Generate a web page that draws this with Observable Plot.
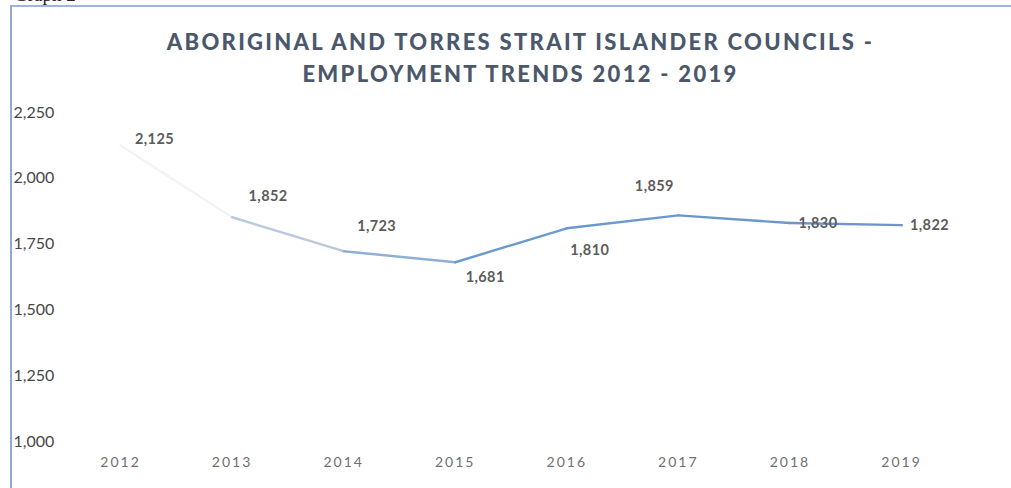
<!DOCTYPE html>
<html>
<head>
<meta charset="utf-8">
<script src="https://cdn.jsdelivr.net/npm/d3@7"></script>
<script src="https://cdn.jsdelivr.net/npm/@observablehq/plot@0.6"></script>
<style>
  html, body { margin: 0; padding: 0; background: #ffffff; }
  body { width: 1011px; height: 488px; position: relative; overflow: hidden; font-family: Lato, "Open Sans", sans-serif; }
  #graphno { position: absolute; left: 14px; top: -16px; font-family: "Liberation Serif", serif; font-size: 19px; color: #222; }
  #frame { position: absolute; left: 10px; top: 5px; width: 1001px; height: 483px;
           border-left: 2px solid #8fa9d6; border-top: 2px solid #9fb5da; box-sizing: border-box; }
  #title { position: absolute; left: 0; top: 0; width: 1011px; height: 95px; text-align: center;
           font-family: Lato, sans-serif; font-weight: 900; font-size: 22px; letter-spacing: 2.3px;
           color: #4b586c; line-height: 32px; padding-top: 26px; box-sizing: border-box; padding-left: 30px; }
  #chart { position: absolute; left: 0; top: 95px; }
  #chart g[aria-label="x-axis tick label"] text { letter-spacing: 2px; }
  #chart g[aria-label="text"] text { letter-spacing: 0.4px; }
</style>
</head>
<body>
<div id="graphno">Graph 2</div>
<div id="frame"></div>
<div id="title">ABORIGINAL AND TORRES STRAIT ISLANDER COUNCILS -<br>EMPLOYMENT TRENDS 2012 - 2019</div>
<div id="chart"></div>
<script>
// ---- data ----
const years = [2012, 2013, 2014, 2015, 2016, 2017, 2018, 2019];
const employees = [2125, 1852, 1723, 1681, 1810, 1859, 1830, 1822];
const yTicks = [1000, 1250, 1500, 1750, 2000, 2250];

// ---- build table ----
const data = years.map((year, i) => ({year, value: employees[i]}));

// label placement (Excel-style data label positions), kept separate from data
const labelOffset = {
  2012: [34, -6], 2013: [36, -21], 2014: [33, -25], 2015: [30, 15],
  2016: [23, 22], 2017: [-24, -29], 2018: [28, 0], 2019: [28, 0]
};
const placements = [...new Set(Object.values(labelOffset).map(d => d.join(",")))];

const fmt = d3.format(",");

const marks = [
  Plot.axisY({
    ticks: yTicks, tickSize: 0, tickPadding: 0, textAnchor: "start", dx: -107,
    tickFormat: fmt, fontSize: 16, fill: "#474747", label: null
  }),
  Plot.axisX({
    ticks: years, tickSize: 0, tickPadding: 16, tickFormat: d => String(d),
    fontSize: 14, fill: "#6f6f6f", label: null
  }),
  Plot.line(data, {
    x: "year", y: "value", z: null, stroke: "year",
    strokeWidth: 2.4, strokeLinejoin: "round", strokeLinecap: "round"
  })
];
for (const p of placements) {
  const [dx, dy] = p.split(",").map(Number);
  marks.push(Plot.text(data.filter(d => labelOffset[d.year].join(",") === p), {
    x: "year", y: "value", text: d => fmt(d.value), dx, dy,
    fontSize: 14.5, fontWeight: "bold", fill: "#5c5c5c"
  }));
}

const chart = Plot.plot({
  width: 1011,
  height: 393,
  marginLeft: 120,
  marginRight: 110,
  marginTop: 17,
  marginBottom: 47,
  style: { fontFamily: "Lato, sans-serif", background: "transparent", overflow: "visible" },
  x: { type: "linear", domain: [2012, 2019] },
  y: { domain: [1000, 2250] },
  color: { type: "linear", domain: [2012, 2013, 2014, 2015, 2019], range: ["#f1f3f6", "#b9c9de", "#8eaed6", "#6b9acf", "#6f92c6"] },
  marks
});
document.getElementById("chart").appendChild(chart);
</script>
</body>
</html>
